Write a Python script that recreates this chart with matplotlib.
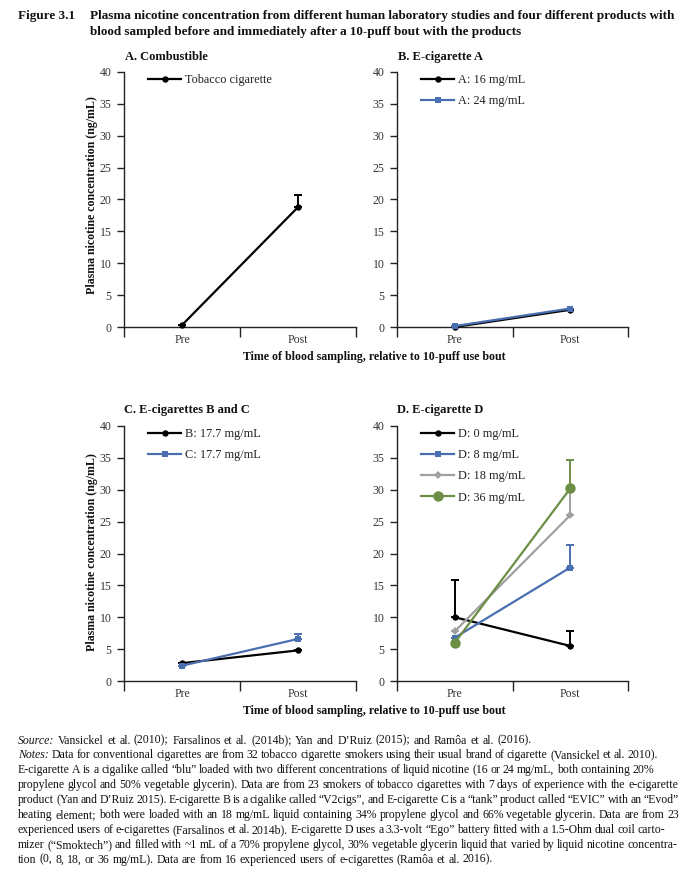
import matplotlib
matplotlib.use("Agg")
import matplotlib.pyplot as plt

plt.rcParams['font.family'] = ['Liberation Serif', 'DejaVu Serif']

# ---------------- data ----------------
x_labels = ["Pre", "Post"]
yticks = [0, 5, 10, 15, 20, 25, 30, 35, 40]

# Panel A
a_names = ["Tobacco cigarette"]
a_vals = [[0.3, 18.8]]
a_err = [[0.0, 1.9]]

# Panel B
b_names = ["A: 16 mg/mL", "A: 24 mg/mL"]
b_vals = [[0.0, 2.7], [0.15, 2.9]]
b_err = [[0.0, 0.0], [0.0, 0.0]]

# Panel C
c_names = ["B: 17.7 mg/mL", "C: 17.7 mg/mL"]
c_vals = [[2.8, 4.8], [2.4, 6.6]]
c_err = [[0.0, 0.0], [0.0, 0.7]]

# Panel D
d_names = ["D: 0 mg/mL", "D: 8 mg/mL", "D: 18 mg/mL", "D: 36 mg/mL"]
d_vals = [[10.0, 5.5], [6.8, 17.8], [7.8, 26.0], [6.0, 30.2]]
d_err = [[5.8, 2.3], [0.0, 3.5], [0.0, 4.0], [0.0, 4.5]]

# ---------------- styles ----------------
BLACK = "#000000"
BLUE = "#4a6fb0"
GRAY = "#a0a0a0"
GREEN = "#6b8e44"
style_black = dict(color=BLACK, marker="o", ms=4.6)
style_blue = dict(color=BLUE, marker="s", ms=4.6)
style_gray = dict(color=GRAY, marker="D", ms=4.2)
style_green = dict(color=GREEN, marker="o", ms=7.5)

W, H = 687, 873
fig = plt.figure(figsize=(W / 100, H / 100), dpi=100)
renderer = fig.canvas.get_renderer()


def ax_at(l, r, top, bot):
    return fig.add_axes([l / W, 1 - bot / H, (r - l) / W, (bot - top) / H])


def setup(ax):
    ax.set_xlim(0, 2)
    ax.set_ylim(0, 40)
    for s in ["top", "right"]:
        ax.spines[s].set_visible(False)
    for s in ["left", "bottom"]:
        ax.spines[s].set_color("#222222")
        ax.spines[s].set_linewidth(1.0)
    ax.set_yticks(yticks)
    ax.set_yticklabels([str(v) for v in yticks])
    ax.tick_params(axis="y", direction="out", length=5, width=1.0, pad=4,
                   labelsize=8.5, labelcolor="#333333", color="#222222")
    ax.set_xticks([0, 1, 2])
    ax.set_xticklabels([])
    ax.tick_params(axis="x", which="major", direction="out", length=7, width=1.0,
                   color="#222222")
    ax.set_xticks([0.5, 1.5], minor=True)
    ax.set_xticklabels(x_labels, minor=True)
    ax.tick_params(axis="x", which="minor", length=0, pad=5, labelsize=8.5,
                   labelcolor="#333333")


def draw(ax, names, vals, errs, styles):
    handles = []
    xs = [0.5, 1.5]
    for n, v, e, st in zip(names, vals, errs, styles):
        ax.errorbar(xs, v, yerr=[[0, 0], e], fmt="none", ecolor=st["color"],
                    elinewidth=1.4, capsize=3, capthick=1.4, zorder=2)
        ln, = ax.plot(xs, v, lw=1.6, clip_on=False, zorder=3, label=n,
                      markeredgewidth=0, **st)
        handles.append(ln)
    return handles


def legend(ax, handles, x_off_px, y_off_px):
    bb = ax.get_position()
    lg = ax.legend(handles=handles, loc="upper left",
                   bbox_to_anchor=(bb.x0 + x_off_px / W, bb.y1 - y_off_px / H),
                   bbox_transform=fig.transFigure, frameon=False,
                   fontsize=8.8, handlelength=2.7, handletextpad=0.3,
                   labelspacing=0.75, borderaxespad=0, borderpad=0)
    for t in lg.get_texts():
        t.set_color("#222222")


axA = ax_at(124, 356, 72, 327)
axB = ax_at(397, 628, 72, 327)
axC = ax_at(124, 356, 426, 681)
axD = ax_at(397, 628, 426, 681)
for ax in (axA, axB, axC, axD):
    setup(ax)

hA = draw(axA, a_names, a_vals, a_err, [style_black])
hB = draw(axB, b_names, b_vals, b_err, [style_black, style_blue])
hC = draw(axC, c_names, c_vals, c_err, [style_black, style_blue])
hD = draw(axD, d_names, d_vals, d_err, [style_black, style_blue, style_gray, style_green])

legend(axA, hA, 24, 2)
legend(axB, hB, 24, 2)
legend(axC, hC, 24, 2)
legend(axD, hD, 24, 2)

# panel titles
title_kw = dict(fontsize=9, fontweight="bold", ha="left", va="center", color="#111111")
fig.text(125 / W, 1 - 57 / H, "A. Combustible", **title_kw)
fig.text(398 / W, 1 - 57 / H, "B. E-cigarette A", **title_kw)
fig.text(124 / W, 1 - 410 / H, "C. E-cigarettes B and C", **title_kw)
fig.text(397 / W, 1 - 410 / H, "D. E-cigarette D", **title_kw)

# axis labels
ylab = "Plasma nicotine concentration (ng/mL)"
xlab = "Time of blood sampling, relative to 10-puff use bout"
lab_kw = dict(fontsize=8.6, fontweight="bold", color="#111111")
fig.text(92 / W, 1 - 195 / H, ylab, rotation=90, ha="center", va="center", **lab_kw)
fig.text(92 / W, 1 - 552 / H, ylab, rotation=90, ha="center", va="center", **lab_kw)
fig.text(374 / W, 1 - 357 / H, xlab, ha="center", va="center", **lab_kw)
fig.text(374 / W, 1 - 711 / H, xlab, ha="center", va="center", **lab_kw)

# figure title (size fitted so line 1 spans the same width as the reference)
title_1 = "Plasma nicotine concentration from different human laboratory studies and four different products with"
title_2 = "blood sampled before and immediately after a 10-puff bout with the products"
tkw = dict(fontweight="bold", ha="left", va="baseline", color="#111111")
t1 = fig.text(90 / W, 1 - 19 / H, title_1, fontsize=10, **tkw)
w10 = t1.get_window_extent(renderer).width
tsize = 10 * 585 / w10
t1.set_fontsize(tsize)
fig.text(90 / W, 1 - 35 / H, title_2, fontsize=tsize, **tkw)
fig.text(18 / W, 1 - 19 / H, "Figure 3.1", fontsize=tsize, **tkw)

# notes (justified to the reference's line ends)
note_lines = [
    ("Source:", "Vansickel et al. (2010); Farsalinos et al. (2014b); Yan and D\u2019Ruiz (2015); and Ram\u00f4a et al. (2016)."),
    ("Notes:", "Data for conventional cigarettes are from 32 tobacco cigarette smokers using their usual brand of cigarette (Vansickel et al. 2010)."),
    ("", "E-cigarette A is a cigalike called \u201cblu\u201d loaded with two different concentrations of liquid nicotine (16 or 24 mg/mL, both containing 20%"),
    ("", "propylene glycol and 50% vegetable glycerin). Data are from 23 smokers of tobacco cigarettes with 7 days of experience with the e-cigarette"),
    ("", "product (Yan and D\u2019Ruiz 2015). E-cigarette B is a cigalike called \u201cV2cigs\u201d, and E-cigarette C is a \u201ctank\u201d product called \u201cEVIC\u201d with an \u201cEvod\u201d"),
    ("", "heating element; both were loaded with an 18 mg/mL liquid containing 34% propylene glycol and 66% vegetable glycerin. Data are from 23"),
    ("", "experienced users of e-cigarettes (Farsalinos et al. 2014b). E-cigarette D uses a 3.3-volt \u201cEgo\u201d battery fitted with a 1.5-Ohm dual coil carto-"),
    ("", "mizer (\u201cSmoktech\u201d) and filled with ~1 mL of a 70% propylene glycol, 30% vegetable glycerin liquid that varied by liquid nicotine concentra-"),
    ("", "tion (0, 8, 18, or 36 mg/mL). Data are from 16 experienced users of e-cigarettes (Ram\u00f4a et al. 2016)."),
]
line_ends = [532, 658, 654, 678, 679, 679, 665, 677, 493]
X0 = 18


def words_of(lead, body):
    ws = []
    if lead:
        ws.append((lead, "italic"))
    ws += [(w, "normal") for w in body.split(" ")]
    return ws


def measure(word, style, size):
    t = fig.text(0, 0, word, fontsize=size, style=style)
    w = t.get_window_extent(renderer).width
    t.remove()
    return w


# one font size so every line fits its end with at least a tight word gap
base = 10.0
sizes = []
for (lead, body), end in zip(note_lines, line_ends):
    ws = words_of(lead, body)
    tot = sum(measure(w, s, base) for w, s in ws)
    gap = 0.16 * base * 100 / 72
    nat = tot + gap * (len(ws) - 1)
    sizes.append(base * (end - X0) / nat)
nsize = min(sizes)

for i, ((lead, body), end) in enumerate(zip(note_lines, line_ends)):
    ws = words_of(lead, body)
    base_y = 1 - (740 + i * 14.9 + 3.5) / H
    widths = [measure(w, s, nsize) for w, s in ws]
    gap = (end - X0 - sum(widths)) / (len(ws) - 1)
    x = X0
    for (w, s), wd in zip(ws, widths):
        fig.text(x / W, base_y, w, fontsize=nsize, style=s, ha="left",
                 va="baseline", color="#111111")
        x += wd + gap

fig.savefig("out.png", dpi=100)
